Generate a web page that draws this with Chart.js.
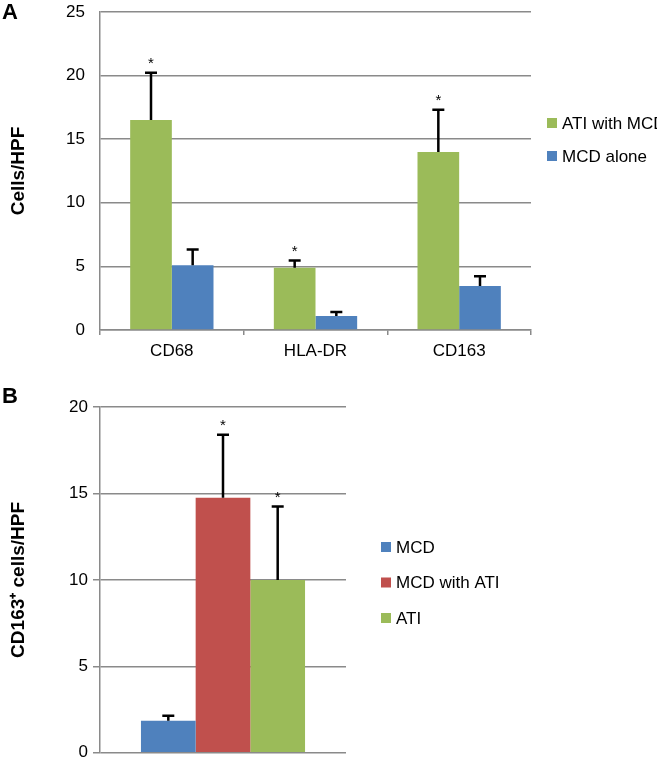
<!DOCTYPE html>
<html>
<head>
<meta charset="utf-8">
<script src="https://cdn.jsdelivr.net/npm/chart.js@4"></script>
<style>
  body { margin:0; background:#fff; }
  #wrap { position:relative; width:657px; height:768px; overflow:hidden; }
  .panel { position:absolute; left:0; }
  .letter { position:absolute; left:2px; font:bold 22px 'Liberation Sans', Arial, sans-serif; color:#000; }
</style>
</head>
<body>
<div id="wrap">
  <div class="panel" style="top:0;width:657px;height:370px"><canvas id="chartA"></canvas></div>
  <div class="panel" style="top:370px;width:657px;height:398px"><canvas id="chartB"></canvas></div>
  <div class="letter" style="top:-1px">A</div>
  <div class="letter" style="top:383px">B</div>
</div>
<script>
// panel A
const aCategories = ['CD68', 'HLA-DR', 'CD163'];
const aAtiWithMcd = [16.5, 4.9, 14.0];
const aAtiWithMcdErr = [3.8, 0.65, 3.4];
const aAtiWithMcdStar = [true, true, true];
const aMcdAlone = [5.1, 1.1, 3.45];
const aMcdAloneErr = [1.3, 0.4, 0.85];
const aYTicks = [0, 5, 10, 15, 20, 25];

// panel B
const bCategories = [''];
const bMcd = [1.85];
const bMcdErr = [0.35];
const bMcdWithAti = [14.75];
const bMcdWithAtiErr = [3.7];
const bAti = [10.0];
const bAtiErr = [4.3];
const bYTicks = [0, 5, 10, 15, 20];

const GREEN = '#9BBB59', BLUE = '#4F81BD', RED = '#C0504D', GRID = '#8a8a8a';
Chart.defaults.font.family = "'Liberation Sans', Arial, sans-serif";
Chart.defaults.color = '#000';

const errorBars = {
  id: 'errorBars',
  afterDatasetsDraw(chart) {
    const ctx = chart.ctx, y = chart.scales.y;
    chart.data.datasets.forEach((ds, i) => {
      chart.getDatasetMeta(i).data.forEach((bar, j) => {
        const top = y.getPixelForValue(ds.data[j] + ds.errors[j]);
        ctx.save();
        ctx.strokeStyle = '#000';
        ctx.lineWidth = 2.5;
        ctx.beginPath();
        ctx.moveTo(bar.x, bar.y);
        ctx.lineTo(bar.x, top);
        ctx.moveTo(bar.x - 6, top + 1);
        ctx.lineTo(bar.x + 6, top + 1);
        ctx.stroke();
        if (ds.stars && ds.stars[j]) {
          ctx.fillStyle = '#000';
          ctx.font = "15px 'Liberation Sans', Arial, sans-serif";
          ctx.textAlign = 'center';
          ctx.textBaseline = 'middle';
          ctx.fillText('*', bar.x, top - 8);
        }
        ctx.restore();
      });
    });
  }
};

const sideLegend = {
  id: 'sideLegend',
  afterDraw(chart, args, opts) {
    const ctx = chart.ctx;
    ctx.save();
    ctx.font = "17px 'Liberation Sans', Arial, sans-serif";
    ctx.textBaseline = 'middle';
    ctx.textAlign = 'left';
    chart.data.datasets.forEach((ds, i) => {
      const yy = opts.y + i * opts.step;
      ctx.fillStyle = ds.backgroundColor;
      ctx.fillRect(opts.x, yy - 5, 10, 10);
      ctx.fillStyle = '#000';
      ctx.fillText(ds.label, opts.x + 15, yy + 1);
    });
    ctx.restore();
  }
};

function yTicksCallback(list) {
  return function(value) { return list.includes(value) ? value : null; };
}

new Chart(document.getElementById('chartA'), {
  type: 'bar',
  data: {
    labels: aCategories,
    datasets: [
      { label: 'ATI with MCD', data: aAtiWithMcd, errors: aAtiWithMcdErr, stars: aAtiWithMcdStar, backgroundColor: GREEN },
      { label: 'MCD alone', data: aMcdAlone, errors: aMcdAloneErr, backgroundColor: BLUE }
    ]
  },
  options: {
    responsive: true,
    maintainAspectRatio: false,
    animation: false,
    categoryPercentage: 0.58,
    barPercentage: 1,
    layout: { padding: { top: 12, right: 126, left: 0, bottom: 0 } },
    plugins: {
      legend: { display: false },
      tooltip: { enabled: false },
      sideLegend: { x: 547, y: 123, step: 33 }
    },
    scales: {
      x: {
        grid: { offset: true, drawOnChartArea: false, color: GRID, lineWidth: 1.5, tickLength: 5 },
        border: { color: GRID, width: 1.5 },
        ticks: { font: { size: 17 }, color: '#000', padding: 6 },
        afterFit(s) { s.height = 40; }
      },
      y: {
        min: 0, max: 25,
        grid: { color: GRID, lineWidth: 1.5, drawTicks: false },
        border: { color: GRID, width: 1.5 },
        ticks: { stepSize: 5, font: { size: 17 }, color: '#000', padding: 15, callback: yTicksCallback(aYTicks) },
        title: { display: true, text: 'Cells/HPF', font: { size: 19, weight: 'bold' }, color: '#000', padding: { top: 7, bottom: 0 } },
        afterFit(s) { s.width = 100; s.paddingTop = 0; s.paddingBottom = 0; }
      }
    }
  },
  plugins: [errorBars, sideLegend]
});

new Chart(document.getElementById('chartB'), {
  type: 'bar',
  data: {
    labels: bCategories,
    datasets: [
      { label: 'MCD', data: bMcd, errors: bMcdErr, backgroundColor: BLUE },
      { label: 'MCD with ATI', data: bMcdWithAti, errors: bMcdWithAtiErr, stars: [true], backgroundColor: RED },
      { label: 'ATI', data: bAti, errors: bAtiErr, stars: [true], backgroundColor: GREEN }
    ]
  },
  options: {
    responsive: true,
    maintainAspectRatio: false,
    animation: false,
    categoryPercentage: 0.667,
    barPercentage: 1,
    layout: { padding: { top: 37, right: 311, left: 0, bottom: 11 } },
    plugins: {
      legend: { display: false },
      tooltip: { enabled: false },
      sideLegend: { x: 381, y: 177, step: 35.5 }
    },
    scales: {
      x: { display: false },
      y: {
        min: 0, max: 20,
        grid: { color: GRID, lineWidth: 1.5, tickLength: 7 },
        border: { color: GRID, width: 1.5 },
        ticks: { stepSize: 5, font: { size: 17 }, color: '#000', padding: 5, callback: yTicksCallback(bYTicks) },
        title: { display: true, text: 'CD163\u207A cells/HPF', font: { size: 19, weight: 'bold' }, color: '#000', padding: { top: 7, bottom: 0 } },
        afterFit(s) { s.width = 100; }
      }
    }
  },
  plugins: [errorBars, sideLegend]
});
</script>
</body>
</html>
